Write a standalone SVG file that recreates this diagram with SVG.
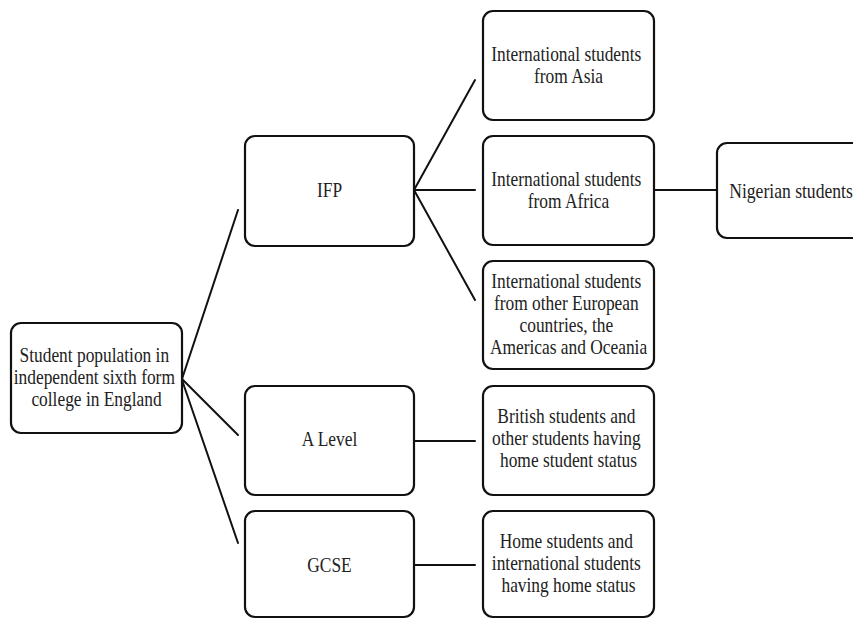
<svg xmlns="http://www.w3.org/2000/svg" width="853" height="619" viewBox="0 0 853 619">
  <style>
    .box { fill: #ffffff; stroke: #111111; stroke-width: 2.2; }
    .edge { stroke: #111111; stroke-width: 2; fill: none; stroke-linecap: round; }
    .lbl { font-family: "Liberation Serif", "Times New Roman", serif; font-size: 22px; fill: #222222; text-anchor: middle; }
  </style>
  <rect width="853" height="619" fill="#ffffff"/>

  <!-- connectors -->
  <g id="connectors">
    <line class="edge" x1="182" y1="379" x2="238" y2="210"/>
    <line class="edge" x1="182" y1="379" x2="238" y2="435"/>
    <line class="edge" x1="182" y1="380" x2="238" y2="543"/>
    <line class="edge" x1="414" y1="190" x2="475" y2="80"/>
    <line class="edge" x1="414" y1="190" x2="475" y2="190"/>
    <line class="edge" x1="414" y1="190" x2="475" y2="300"/>
    <line class="edge" x1="654" y1="190" x2="717" y2="190"/>
    <line class="edge" x1="414" y1="441" x2="475" y2="441"/>
    <line class="edge" x1="414" y1="565" x2="475" y2="565"/>
  </g>

  <g id="root">
    <rect class="box" x="11" y="323" width="171" height="110" rx="10"/>
    <text class="lbl" transform="translate(96.5 0) scale(0.79 1)">
      <tspan x="0" y="362">Student population in</tspan>
      <tspan x="0" y="384">independent sixth form</tspan>
      <tspan x="0" y="406">college in England</tspan>
    </text>
  </g>

  <g id="ifp">
    <rect class="box" x="245" y="136" width="169" height="110" rx="10"/>
    <text class="lbl" transform="translate(329.5 0) scale(0.79 1)"><tspan x="0" y="197.5">IFP</tspan></text>
  </g>

  <g id="a-level">
    <rect class="box" x="245" y="386" width="169" height="109" rx="10"/>
    <text class="lbl" transform="translate(329.5 0) scale(0.79 1)"><tspan x="0" y="446.5">A Level</tspan></text>
  </g>

  <g id="gcse">
    <rect class="box" x="245" y="511" width="169" height="106" rx="10"/>
    <text class="lbl" transform="translate(329.5 0) scale(0.79 1)"><tspan x="0" y="572.5">GCSE</tspan></text>
  </g>

  <g id="asia">
    <rect class="box" x="483" y="11" width="171" height="109" rx="10"/>
    <text class="lbl" transform="translate(568.5 0) scale(0.79 1)">
      <tspan x="0" y="61.5">International students</tspan>
      <tspan x="0" y="83.5">from Asia</tspan>
    </text>
  </g>

  <g id="africa">
    <rect class="box" x="483" y="136" width="171" height="109" rx="10"/>
    <text class="lbl" transform="translate(568.5 0) scale(0.79 1)">
      <tspan x="0" y="186">International students</tspan>
      <tspan x="0" y="208">from Africa</tspan>
    </text>
  </g>

  <g id="nigerian">
    <rect class="box" x="717" y="143" width="150" height="95" rx="10"/>
    <text class="lbl" transform="translate(791 0) scale(0.8 1)"><tspan x="0" y="198">Nigerian students</tspan></text>
  </g>

  <g id="other-regions">
    <rect class="box" x="483" y="261" width="171" height="108" rx="10"/>
    <text class="lbl" transform="translate(568.5 0) scale(0.79 1)">
      <tspan x="0" y="288.5">International students</tspan>
      <tspan x="0" y="310.5">from other European</tspan>
      <tspan x="0" y="332.5">countries, the</tspan>
      <tspan x="0" y="354.5">Americas and Oceania</tspan>
    </text>
  </g>

  <g id="british">
    <rect class="box" x="483" y="386" width="171" height="109" rx="10"/>
    <text class="lbl" transform="translate(568.5 0) scale(0.79 1)">
      <tspan x="0" y="423.5">British students and</tspan>
      <tspan x="0" y="445.5">other students having</tspan>
      <tspan x="0" y="467.5">home student status</tspan>
    </text>
  </g>

  <g id="home">
    <rect class="box" x="483" y="511" width="171" height="106" rx="10"/>
    <text class="lbl" transform="translate(568.5 0) scale(0.79 1)">
      <tspan x="0" y="548.5">Home students and</tspan>
      <tspan x="0" y="570.5">international students</tspan>
      <tspan x="0" y="592.5">having home status</tspan>
    </text>
  </g>
</svg>
